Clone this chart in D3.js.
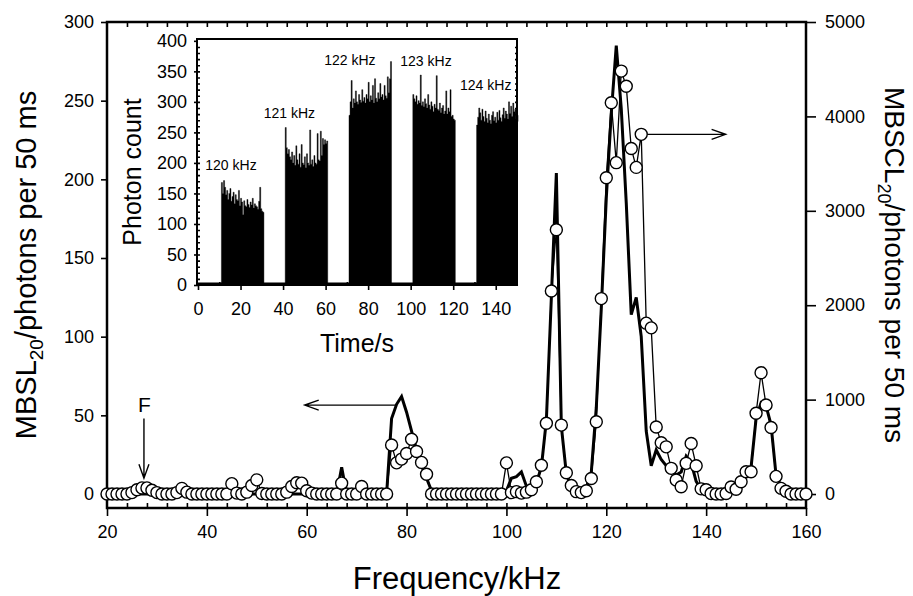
<!DOCTYPE html>
<html>
<head>
<meta charset="utf-8" />
<script src="https://d3js.org/d3.v7.min.js"></script>
<style>
  body { margin: 0; background: white; }
  svg { font-family: 'Liberation Sans', Arial, sans-serif; }
</style>
</head>
<body>
<svg></svg>
<script>
// main chart: frequency scan, 1 kHz steps
const frequency = [
  20, 21, 22, 23, 24, 25, 26, 27, 28, 29,
  30, 31, 32, 33, 34, 35, 36, 37, 38, 39,
  40, 41, 42, 43, 44, 45, 46, 47, 48, 49,
  50, 51, 52, 53, 54, 55, 56, 57, 58, 59,
  60, 61, 62, 63, 64, 65, 66, 67, 68, 69,
  70, 71, 72, 73, 74, 75, 76, 77, 78, 79,
  80, 81, 82, 83, 84, 85, 86, 87, 88, 89,
  90, 91, 92, 93, 94, 95, 96, 97, 98, 99,
  100, 101, 102, 103, 104, 105, 106, 107, 108, 109,
  110, 111, 112, 113, 114, 115, 116, 117, 118, 119,
  120, 121, 122, 123, 124, 125, 126, 127, 128, 129,
  130, 131, 132, 133, 134, 135, 136, 137, 138, 139,
  140, 141, 142, 143, 144, 145, 146, 147, 148, 149,
  150, 151, 152, 153, 154, 155, 156, 157, 158, 159,
  160
]
// MBSL (thick line, left axis)
const mbsl = [
  0, 0, 0, 0, 0, 0, 0, 0, 0, 0,
  0, 0, 0, 0, 0, 0, 0, 0, 0, 0,
  0, 0, 0, 0, 0, 0, 0, 0, 0, 0,
  0, 0, 0, 0, 0, 0, 0, 0, 0, 0,
  0, 0, 0, 0, 0, 0, 0, 17, 0, 0,
  0, 0, 0, 0, 0, 0, 0, 48, 57, 62,
  52, 40, 28, 18, 10, 2, 0, 0, 0, 0,
  0, 0, 0, 0, 0, 0, 0, 0, 0, 0,
  2, 10, 11, 14, 5, 3, 7, 17, 47, 125,
  204, 43, 13, 4, 1, 1, 4, 14, 55, 118,
  188, 242, 285, 245, 185, 114, 125, 100, 40, 18,
  28, 22, 18, 16, 12, 14, 24, 20, 8, 3,
  2, 0, 0, 0, 1, 4, 5, 8, 14, 17,
  48, 58, 56, 44, 12, 5, 2, 0, 0, 0,
  0
]
// MBSCL (open circles, right axis)
const mbscl = [
  0, 0, 0, 0, 0, 15, 45, 65, 65, 40,
  15, 0, 0, 0, 15, 60, 20, 0, 0, 0,
  0, 0, 0, 0, 0, 110, 10, 0, 20, 90,
  150, 5, 0, 0, 0, 0, 20, 80, 120, 115,
  35, 10, 0, 0, 0, 0, 0, 115, 0, 0,
  0, 80, 0, 0, 0, 0, 0, 520, 330, 370,
  430, 580, 450, 335, 210, 0, 0, 0, 0, 0,
  0, 0, 0, 0, 0, 0, 0, 0, 0, 0,
  330, 15, 25, 10, 20, 45, 130, 305, 750, 2150,
  2800, 730, 225, 90, 25, 15, 35, 165, 765, 2070,
  3350, 4145, 3510, 4480, 4320, 3660, 3460, 3810, 1810, 1760,
  710, 543, 500, 272, 148, 77, 325, 535, 300, 55,
  45, 5, 0, 0, 5, 75, 50, 130, 236, 236,
  855, 1285, 943, 705, 187, 60, 30, 0, 0, 0,
  0
]
const freqTicks = [20, 40, 60, 80, 100, 120, 140, 160]
const leftTicks = [0, 50, 100, 150, 200, 250, 300]
const rightTicks = [0, 1000, 2000, 3000, 4000, 5000]

// inset: photon count vs time, 0.5 s bins
const burstLabels = ['120 kHz', '121 kHz', '122 kHz', '123 kHz', '124 kHz']
const burstStart = [11, 41, 71, 101, 131]
const burstCounts = [
  [168, 150, 171, 160, 148, 155, 140, 150, 158, 137, 145, 152, 133, 148, 140, 138, 155, 130, 142, 136,
   115, 138, 130, 128, 140, 132, 127, 136, 131, 142, 126, 133, 130, 128, 124, 137, 160, 125, 121, 119],
  [258, 225, 215, 222, 210, 205, 218, 200, 212, 196, 228, 205, 198, 215, 193, 230, 200, 197, 210, 192,
   215, 200, 196, 254, 198, 205, 194, 212, 200, 198, 248, 205, 203, 252, 212, 240, 230, 238, 232, 236],
  [278, 300, 335, 290, 305, 298, 318, 300, 296, 312, 303, 299, 320, 301, 307, 298, 312, 305, 332, 300,
   310, 303, 327, 298, 338, 306, 300, 315, 305, 330, 308, 312, 303, 327, 310, 306, 341, 315, 338, 366],
  [312, 305, 300, 310, 296, 302, 298, 344, 294, 300, 292, 305, 297, 290, 312, 295, 288, 300, 293, 284,
   296, 290, 343, 288, 286, 298, 282, 290, 294, 280, 285, 318, 280, 290, 284, 320, 276, 278, 272, 270],
  [262, 275, 290, 282, 270, 288, 276, 268, 285, 273, 266, 280, 270, 264, 278, 284, 269, 275, 266, 283,
   270, 286, 274, 268, 279, 290, 273, 285, 280, 272, 300, 281, 293, 276, 298, 284, 288, 272, 278, 268]
]
const baseCount = 3
const timeTicks = [0, 20, 40, 60, 80, 100, 120, 140]
const countTicks = [0, 50, 100, 150, 200, 250, 300, 350, 400]

const svg = d3.select('svg').attr('width', 913).attr('height', 596)

const x = d3.scaleLinear().domain([20, 160]).range([107, 806])
const yLeft = d3.scaleLinear().domain([-8.9, 300]).range([508, 22])
const yRight = d3.scaleLinear().domain([-148, 5000]).range([508, 22])

function styleAxis(g, size) {
  g.attr('font-family', null).attr('font-size', size)
  g.selectAll('.tick line').attr('stroke', '#000').attr('stroke-width', 1.6)
  g.selectAll('.tick text').attr('fill', '#000')
  g.select('.domain').remove()
}

// main axes
svg.append('g').attr('transform', 'translate(0,508)')
  .call(d3.axisBottom(x).tickValues(freqTicks).tickSize(8).tickPadding(9).tickSizeOuter(0))
  .call(g => styleAxis(g, 18))
svg.append('g').attr('transform', 'translate(0,508)')
  .call(d3.axisBottom(x).tickValues(d3.range(24, 160, 4)).tickSize(-5).tickFormat('').tickSizeOuter(0))
  .call(g => styleAxis(g, 18))
svg.append('g').attr('transform', 'translate(0,22)')
  .call(d3.axisTop(x).tickValues(d3.range(24, 160, 4)).tickSize(-5).tickFormat('').tickSizeOuter(0))
  .call(g => styleAxis(g, 18))
svg.append('g').attr('transform', 'translate(107,0)')
  .call(d3.axisLeft(yLeft).tickValues(leftTicks).tickSize(6).tickPadding(7).tickSizeOuter(0))
  .call(g => styleAxis(g, 18))
svg.append('g').attr('transform', 'translate(806,0)')
  .call(d3.axisRight(yRight).tickValues(rightTicks).tickFormat(d3.format('d'))
    .tickSize(10).tickPadding(9).tickSizeOuter(0))
  .call(g => styleAxis(g, 18))

svg.append('rect')
  .attr('x', x.range()[0]).attr('y', yLeft.range()[1])
  .attr('width', x.range()[1] - x.range()[0])
  .attr('height', yLeft.range()[0] - yLeft.range()[1])
  .attr('fill', 'none').attr('stroke', '#000').attr('stroke-width', 2.5)

// axis titles
const lt = svg.append('text')
  .attr('transform', 'translate(36,265) rotate(-90)')
  .attr('text-anchor', 'middle').attr('font-size', 29)
lt.append('tspan').text('MBSL')
lt.append('tspan').attr('font-size', 19).attr('dy', 7).text('20')
lt.append('tspan').attr('dy', -7).text('/photons per 50 ms')

const rt = svg.append('text')
  .attr('transform', 'translate(885,265) rotate(90)')
  .attr('text-anchor', 'middle').attr('font-size', 28)
rt.append('tspan').text('MBSCL')
rt.append('tspan').attr('font-size', 18).attr('dy', 7).text('20')
rt.append('tspan').attr('dy', -7).text('/photons per 50 ms')

svg.append('text')
  .attr('x', 457).attr('y', 589)
  .attr('text-anchor', 'middle').attr('font-size', 31)
  .text('Frequency/kHz')

// data
const rows = frequency.map((f, i) => ({ f: f, l: mbsl[i], r: mbscl[i] }))

svg.append('path').datum(rows)
  .attr('d', d3.line().x(d => x(d.f)).y(d => yLeft(d.l)))
  .attr('fill', 'none').attr('stroke', '#000').attr('stroke-width', 3)
  .attr('stroke-linejoin', 'miter')

svg.append('path').datum(rows)
  .attr('d', d3.line().x(d => x(d.f)).y(d => yRight(d.r)))
  .attr('fill', 'none').attr('stroke', '#000').attr('stroke-width', 1.3)

svg.append('g').selectAll('circle').data(rows).join('circle')
  .attr('cx', d => x(d.f)).attr('cy', d => yRight(d.r)).attr('r', 6)
  .attr('fill', '#fff').attr('stroke', '#000').attr('stroke-width', 1.4)

// annotations
function arrow(x1, y1, x2, y2) {
  const a = Math.atan2(y2 - y1, x2 - x1)
  const L = 14, W = 5
  const bx = x2 - L * Math.cos(a), by = y2 - L * Math.sin(a)
  const nx = -Math.sin(a) * W, ny = Math.cos(a) * W
  svg.append('path')
    .attr('d', `M${x1},${y1}L${x2},${y2}M${bx + nx},${by + ny}L${x2},${y2}L${bx - nx},${by - ny}`)
    .attr('fill', 'none').attr('stroke', '#000').attr('stroke-width', 1.4)
}
arrow(x(27.4), yLeft(48), x(27.4), yLeft(10))
svg.append('text').attr('x', x(27.5)).attr('y', yLeft(52)).attr('text-anchor', 'middle')
  .attr('font-size', 21).text('F')
arrow(x(78), yLeft(56.5), x(59.6), yLeft(56.5))
arrow(x(127) + 6, yRight(3810), x(143.9), yRight(3810))

// inset
const tx = d3.scaleLinear().domain([0, 150]).range([198, 517])
const ty = d3.scaleLinear().domain([0, 403]).range([285, 39])

svg.append('rect')
  .attr('x', tx(0) - 1).attr('y', ty(403))
  .attr('width', tx(150) - tx(0) + 1).attr('height', ty(0) - ty(403))
  .attr('fill', '#fff')

svg.append('line')
  .attr('x1', tx(0)).attr('x2', tx(150))
  .attr('y1', ty(baseCount)).attr('y2', ty(baseCount))
  .attr('stroke', '#000').attr('stroke-width', 1.5)

const burstArea = d3.area().curve(d3.curveStepAfter)
  .x(d => tx(d.t)).y0(ty(0)).y1(d => ty(d.c))

burstCounts.forEach((counts, i) => {
  const pts = counts.map((c, j) => ({ t: burstStart[i] + j * 0.5, c: c }))
  const last = pts[pts.length - 1]
  pts.push({ t: Math.min(last.t + 0.5, 150), c: last.c })
  svg.append('path').datum(pts).attr('d', burstArea).attr('fill', '#000')
    .attr('stroke', '#000').attr('stroke-width', 0.4)
})

const labelAt = [[15.5, 188], [43, 273], [71.4, 360], [107.2, 358], [135.3, 320]]
svg.append('g').selectAll('text').data(burstLabels).join('text')
  .attr('x', (d, i) => tx(labelAt[i][0])).attr('y', (d, i) => ty(labelAt[i][1]))
  .attr('text-anchor', 'middle').attr('font-size', 14).text(d => d)

svg.append('g').attr('transform', `translate(0,${ty(0)})`)
  .call(d3.axisBottom(tx).tickValues(timeTicks).tickSize(5).tickPadding(12).tickSizeOuter(0))
  .call(g => styleAxis(g, 18))
svg.append('g').attr('transform', `translate(0,${ty(0)})`)
  .call(d3.axisBottom(tx).tickValues(d3.range(10, 150, 20)).tickSize(-3).tickFormat('').tickSizeOuter(0))
  .call(g => styleAxis(g, 18))
svg.append('g').attr('transform', `translate(${tx(0)},0)`)
  .call(d3.axisLeft(ty).tickValues(countTicks).tickSize(4).tickPadding(7).tickSizeOuter(0))
  .call(g => styleAxis(g, 18))
svg.append('g').attr('transform', `translate(${tx(0)},0)`)
  .call(d3.axisLeft(ty).tickValues(d3.range(10, 400, 10)).tickSize(-2).tickFormat('').tickSizeOuter(0))
  .call(g => styleAxis(g, 18))
svg.append('g').attr('transform', `translate(${tx(150)},0)`)
  .call(d3.axisRight(ty).tickValues(d3.range(10, 400, 10)).tickSize(-2).tickFormat('').tickSizeOuter(0))
  .call(g => styleAxis(g, 18))

svg.append('rect')
  .attr('x', tx(0) - 1).attr('y', ty(403))
  .attr('width', tx(150) - tx(0) + 1).attr('height', ty(0) - ty(403))
  .attr('fill', 'none').attr('stroke', '#000').attr('stroke-width', 2)

svg.append('text')
  .attr('transform', `translate(141,${(ty(0) + ty(403)) / 2 + 10}) rotate(-90)`)
  .attr('text-anchor', 'middle').attr('font-size', 25)
  .text('Photon count')
svg.append('text')
  .attr('x', 357).attr('y', 352).attr('text-anchor', 'middle').attr('font-size', 25)
  .text('Time/s')
</script>
</body>
</html>
